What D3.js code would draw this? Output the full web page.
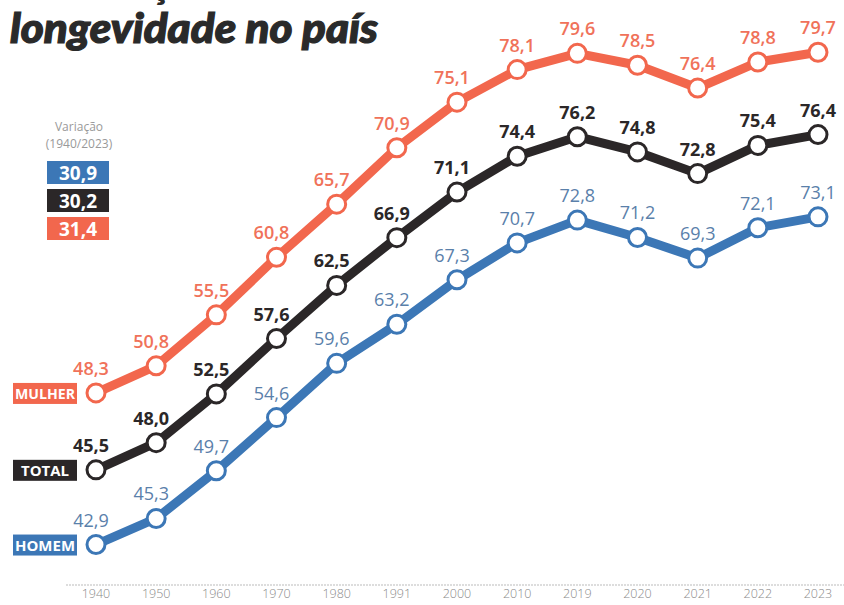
<!DOCTYPE html>
<html>
<head>
<meta charset="utf-8">
<script src="https://cdn.jsdelivr.net/npm/d3@7"></script>
<style>
  body { margin: 0; background: #fff; }
  svg { display: block; }
</style>
</head>
<body>
<div id="chart"></div>
<script>
// data
const years = ["1940", "1950", "1960", "1970", "1980", "1991", "2000", "2010", "2019", "2020", "2021", "2022", "2023"];
const mulher = [48.3, 50.8, 55.5, 60.8, 65.7, 70.9, 75.1, 78.1, 79.6, 78.5, 76.4, 78.8, 79.7];
const total  = [45.5, 48.0, 52.5, 57.6, 62.5, 66.9, 71.1, 74.4, 76.2, 74.8, 72.8, 75.4, 76.4];
const homem  = [42.9, 45.3, 49.7, 54.6, 59.6, 63.2, 67.3, 70.7, 72.8, 71.2, 69.3, 72.1, 73.1];
const seriesNames = ["MULHER", "TOTAL", "HOMEM"];
const variacao = ["30,9", "30,2", "31,4"];

const width = 844;
const height = 605;
const seriesGap = 46.5; // each series drawn a step lower, as in the print

const colors = { MULHER: "#f2674d", TOTAL: "#2b2728", HOMEM: "#3c77b6" };
const labelColors = { MULHER: "#f0725a", TOTAL: "#2b2728", HOMEM: "#5a80aa" };

const fmt = v => d3.format(".1f")(v).replace(".", ",");

const svg = d3.select("#chart")
  .append("svg")
  .attr("width", width)
  .attr("height", height);

const x = d3.scalePoint().domain(years).range([96, 818]);
const y = d3.scaleLinear().domain([40, 80]).range([483, 49]);

// title (first line cut off at the top of the picture, only the cedilla shows)
svg.append("text")
  .attr("x", 60).attr("y", -2)
  .text("Evolução da")
  .style("font-family", "Lato").style("font-weight", 900).style("font-style", "italic")
  .style("font-size", "40px").attr("fill", "#2a2a2a");
svg.append("text")
  .attr("x", 10).attr("y", 43)
  .text("longevidade no país")
  .attr("textLength", 368).attr("lengthAdjust", "spacingAndGlyphs")
  .style("font-family", "Lato").style("font-weight", 900).style("font-style", "italic")
  .style("font-size", "41px").attr("fill", "#2a2a2a")
  .attr("stroke", "#2a2a2a").attr("stroke-width", 1.2);

// x axis
const axisY = 585;
svg.append("line")
  .attr("x1", 66).attr("x2", width).attr("y1", axisY).attr("y2", axisY)
  .attr("stroke", "#bbb").attr("stroke-dasharray", "2,1").attr("stroke-width", 1);
svg.selectAll("text.year")
  .data(years)
  .enter()
  .append("text")
  .attr("class", "year")
  .attr("x", d => x(d))
  .attr("y", axisY + 13)
  .attr("text-anchor", "middle")
  .text(d => d)
  .style("font-family", "Open Sans").style("font-weight", 300).style("font-size", "12.5px").attr("fill", "#8a8a8a");

// series
const series = [
  { name: "MULHER", values: mulher },
  { name: "TOTAL", values: total },
  { name: "HOMEM", values: homem }
];

series.forEach((s, k) => {
  const shift = k * seriesGap;
  const pts = s.values.map((v, i) => ({ year: years[i], value: v, px: x(years[i]), py: y(v) + shift }));

  const line = d3.line().x(d => d.px).y(d => d.py);
  svg.append("path")
    .datum(pts)
    .attr("d", line)
    .attr("fill", "none")
    .attr("stroke", colors[s.name])
    .attr("stroke-width", 9)
    .attr("stroke-linejoin", "round");

  svg.selectAll("circle.s" + k)
    .data(pts)
    .enter()
    .append("circle")
    .attr("class", "s" + k)
    .attr("cx", d => d.px)
    .attr("cy", d => d.py)
    .attr("r", 9)
    .attr("fill", "#fff")
    .attr("stroke", colors[s.name])
    .attr("stroke-width", 3);

  svg.selectAll("text.s" + k)
    .data(pts)
    .enter()
    .append("text")
    .attr("class", "s" + k)
    .attr("x", (d, i) => d.px - (i < 7 ? 5 : 0))
    .attr("y", d => d.py - 18)
    .attr("text-anchor", "middle")
    .text(d => fmt(d.value))
    .style("font-family", "Open Sans")
    .style("font-weight", s.name === "HOMEM" ? 400 : (s.name === "MULHER" ? 600 : 700))
    .style("font-size", "18px")
    .attr("fill", labelColors[s.name]);

  // series name tag at the left
  const tag = svg.append("g").attr("transform", `translate(13,${pts[0].py - 10})`);
  tag.append("rect").attr("width", 64).attr("height", 21).attr("fill", colors[s.name]);
  tag.append("text")
    .attr("x", 32).attr("y", 16)
    .attr("text-anchor", "middle")
    .attr("textLength", s.name === "TOTAL" ? 48 : 60).attr("lengthAdjust", "spacingAndGlyphs")
    .text(s.name)
    .style("font-family", "Open Sans").style("font-weight", 700).style("font-size", "15px")
    .attr("fill", "#fff");
});

// legend: variação 1940/2023
svg.append("text")
  .attr("x", 79).attr("y", 131).attr("text-anchor", "middle")
  .text("Variação")
  .style("font-family", "Open Sans").style("font-size", "12px").attr("fill", "#999");
svg.append("text")
  .attr("x", 79).attr("y", 148).attr("text-anchor", "middle")
  .text("(1940/2023)")
  .style("font-family", "Open Sans").style("font-size", "12px").attr("fill", "#999");

const legendOrder = ["HOMEM", "TOTAL", "MULHER"];
legendOrder.forEach((name, i) => {
  const g = svg.append("g").attr("transform", `translate(47,${161 + i * 28})`);
  g.append("rect").attr("width", 62).attr("height", 23).attr("fill", colors[name]);
  g.append("text")
    .attr("x", 31).attr("y", 19)
    .attr("text-anchor", "middle")
    .text(variacao[i])
    .style("font-family", "Open Sans").style("font-weight", 700).style("font-size", "19px")
    .attr("fill", "#fff");
});
</script>
</body>
</html>
